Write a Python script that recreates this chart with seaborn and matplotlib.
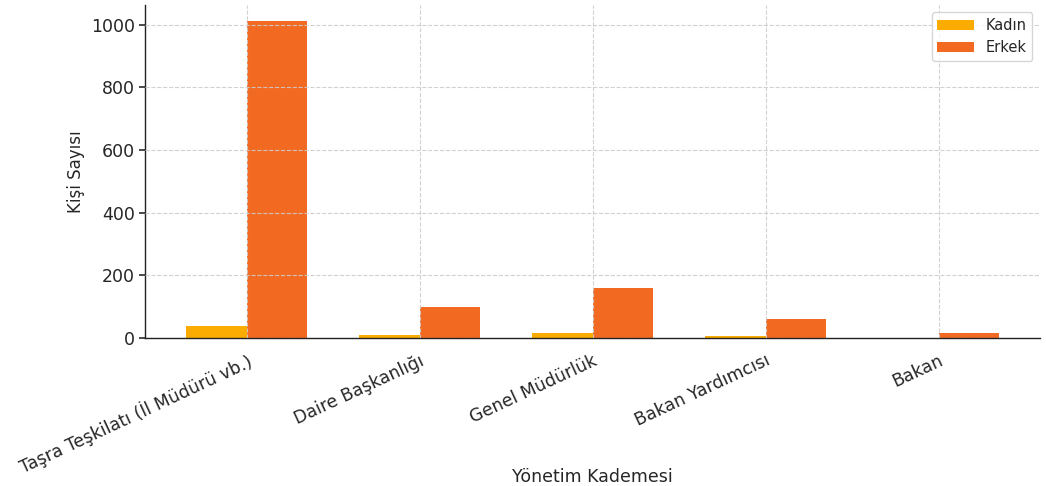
import matplotlib
matplotlib.use("Agg")
import matplotlib.pyplot as plt
import seaborn as sns
import pandas as pd

categories = ["Taşra Teşkilatı (İl Müdürü vb.)", "Daire Başkanlığı", "Genel Müdürlük",
              "Bakan Yardımcısı", "Bakan"]
kadin = [39, 9, 14, 6, 0]
erkek = [1013, 98, 160, 61, 16]
series_names = ["Kadın", "Erkek"]
colors = ["#FCAC00", "#F26A22"]

df = pd.DataFrame({
    "Yönetim Kademesi": categories * 2,
    "Kişi Sayısı": kadin + erkek,
    "Cinsiyet": [series_names[0]] * len(categories) + [series_names[1]] * len(categories),
})

sns.set_theme(style="white")
plt.rcParams["font.family"] = ["DejaVu Sans"]

fig = plt.figure(figsize=(10.46, 4.86), dpi=100)
ax = fig.add_axes([0.139, 0.305, 0.855, 0.685])

sns.barplot(data=df, x="Yönetim Kademesi", y="Kişi Sayısı", hue="Cinsiyet",
            palette=colors, width=0.7, ax=ax, saturation=1, errorbar=None,
            linewidth=0)

ax.set_xlim(-0.585, 4.585)
ax.set_ylim(0, 1064)
ax.set_xlabel("Yönetim Kademesi", fontsize=12.5)
ax.xaxis.set_label_coords(0.5, -0.39)
ax.set_ylabel("Kişi Sayısı", fontsize=12)
ax.tick_params(axis="y", labelsize=12.5, left=True, length=4, color="#333333")
ax.tick_params(axis="x", labelsize=12.5, pad=4)
plt.setp(ax.get_xticklabels(), rotation=25, ha="right", rotation_mode="anchor")

ax.grid(True, linestyle="--", color="#cccccc", linewidth=0.8, alpha=0.9)
ax.set_axisbelow(False)
for s in ["top", "right"]:
    ax.spines[s].set_visible(False)
for s in ["left", "bottom"]:
    ax.spines[s].set_color("#222222")
    ax.spines[s].set_linewidth(1.0)

leg = ax.legend(loc="upper right", fontsize=10.5, frameon=True, title=None,
                handlelength=2.5)
leg.get_frame().set_edgecolor("#cccccc")

fig.savefig("out.png", dpi=100)
